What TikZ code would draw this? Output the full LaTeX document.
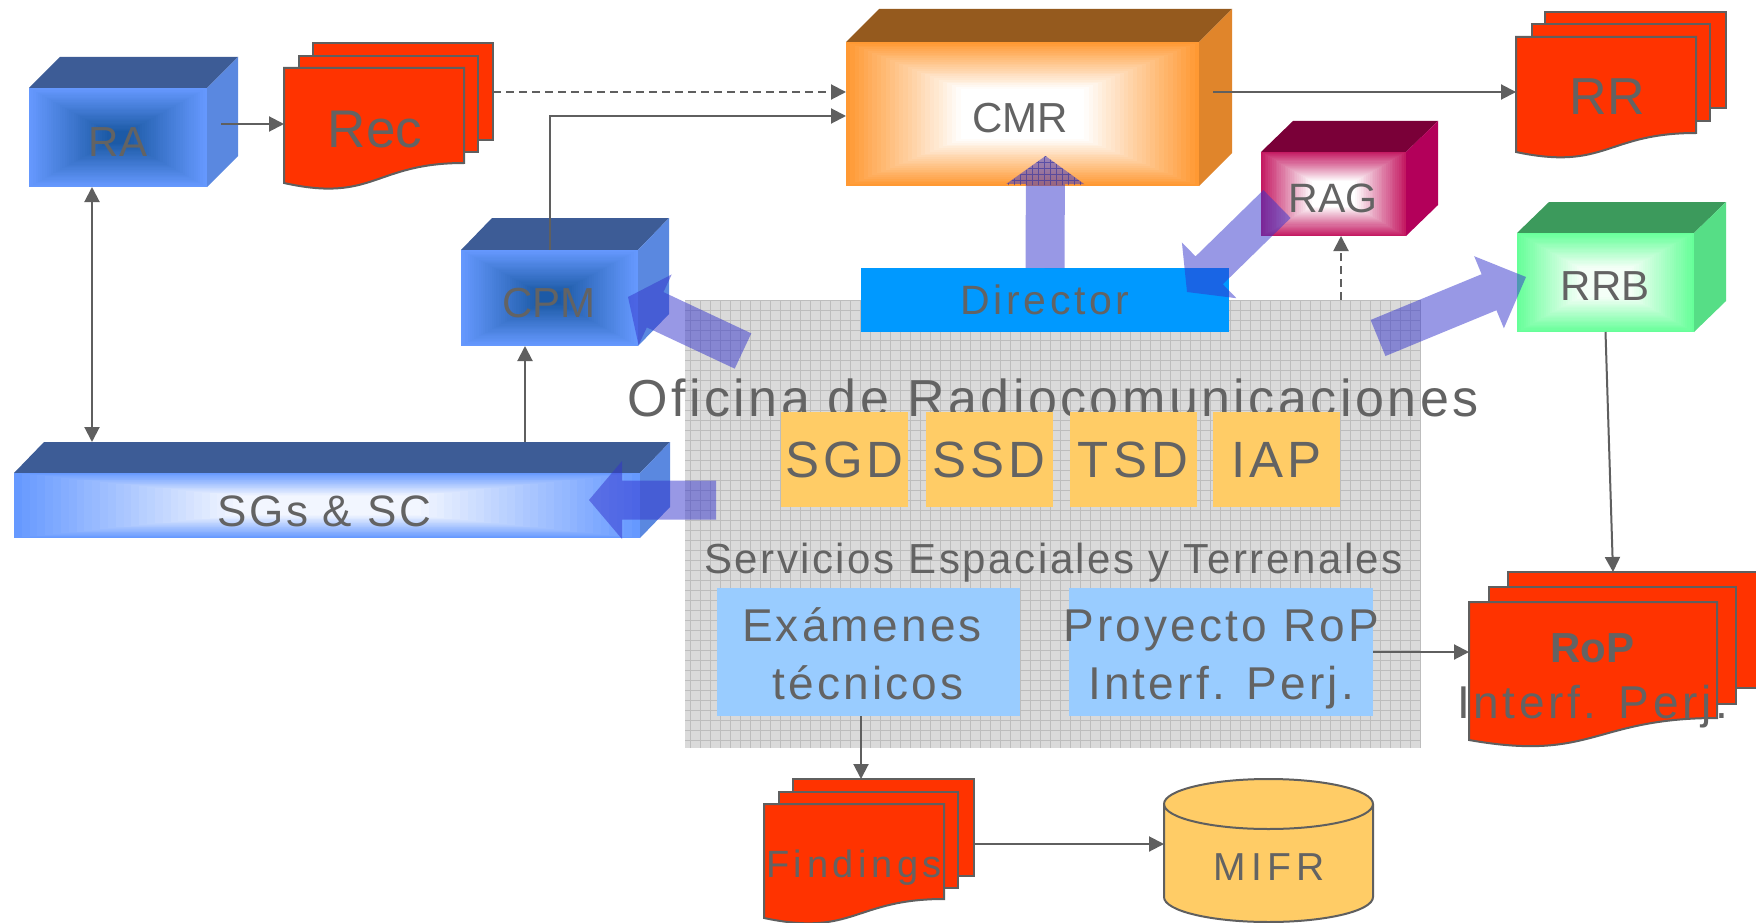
\documentclass[tikz,border=0pt]{standalone}
\usepackage{fontspec}
\setmainfont{Liberation Sans}
\usetikzlibrary{arrows.meta,calc}
\definecolor{txtg}{HTML}{636363}
\definecolor{lineg}{HTML}{5F5F5F}
\definecolor{docred}{HTML}{FF3300}
\definecolor{orgbox}{HTML}{FFCC66}
\definecolor{ltblue}{HTML}{99CCFF}
\definecolor{dirblue}{HTML}{0099FF}
\definecolor{gridbg}{HTML}{DADADA}
\definecolor{gridln}{HTML}{BDBDBD}
\definecolor{fatblue}{HTML}{3333CC}
\definecolor{hatchc}{HTML}{3030A0}
\definecolor{bOut}{HTML}{6699FF}
\definecolor{bIn}{HTML}{1C5AA6}
\definecolor{bWhite}{HTML}{F2F6FF}
\definecolor{bTop}{HTML}{3D5C96}
\definecolor{bSide}{HTML}{5A88E0}
\definecolor{oOut}{HTML}{FF9933}
\definecolor{oTop}{HTML}{955A1E}
\definecolor{oSide}{HTML}{E0852B}
\definecolor{mOut}{HTML}{C41A62}
\definecolor{mTop}{HTML}{7A0038}
\definecolor{mSide}{HTML}{B3005A}
\definecolor{gOut}{HTML}{66FF99}
\definecolor{gIn}{HTML}{F4FFF7}
\definecolor{gTop}{HTML}{3C9A5C}
\definecolor{gSide}{HTML}{56DE86}

\newcommand\myfs[1]{\fontsize{#1pt}{#1pt}\selectfont}

% nested-rectangle gradient: x1 y1 x2 y2 outer inner d0
\newcommand\gradrect[7]{%
  \pgfmathsetmacro\gcx{(#1+#3)/2}%
  \pgfmathsetmacro\gcy{(#2+#4)/2}%
  \pgfmathsetmacro\ghx{(#3-#1)/2}%
  \pgfmathsetmacro\ghy{(#4-#2)/2}%
  \foreach \k in {0,...,39}{%
    \pgfmathsetmacro\gd{1-\k/40}%
    \pgfmathtruncatemacro\gp{max(0,min(100,(\gd-#7)/(1-#7)*100))}%
    \fill[#5!\gp!#6] ({\gcx-\gd*\ghx},{\gcy-\gd*\ghy}) rectangle ({\gcx+\gd*\ghx},{\gcy+\gd*\ghy});
  }}
% top and side faces: x1 y1 x2 y2 dx dy topcolor sidecolor
\newcommand\cubefaces[8]{%
  \fill[#7] (#1,#2) -- (#1+#5,#2-#6) -- (#3+#5,#2-#6) -- (#3,#2) -- cycle;
  \fill[#8] (#3,#2) -- (#3+#5,#2-#6) -- (#3+#5,#4-#6) -- (#3,#4) -- cycle;}
% document sheets
\newcommand\docback[4]{\filldraw[docst] (#1,#2) rectangle (#3,#4);}
\newcommand\docfront[5]{%
  \filldraw[docst] (#1,#2) -- (#3,#2) -- (#3,#4) .. controls ({(#1+#3)/2},#4) and ({(#1+#3)/2},{#4+2*(#5-#4)}) .. (#1,#5) -- cycle;}
% fat translucent arrow: tail, tip, head length
\newcommand\fatarrow[3]{%
  \fill[fatarr] let \p1=(#1), \p2=(#2), \n1={atan2(\y2-\y1,\x2-\x1)} in
    ($(\p1)+({\n1+90}:19.5pt)$) --
    ($(\p2)+({\n1+180}:#3)+({\n1+90}:19.5pt)$) --
    ($(\p2)+({\n1+180}:#3)+({\n1+90}:39pt)$) --
    (\p2) --
    ($(\p2)+({\n1+180}:#3)+({\n1-90}:39pt)$) --
    ($(\p2)+({\n1+180}:#3)+({\n1-90}:19.5pt)$) --
    ($(\p1)+({\n1-90}:19.5pt)$) -- cycle;}

\begin{document}
\begin{tikzpicture}[x=1pt,y=-1pt,
  conn/.style={draw=lineg, line width=2pt, -{Triangle[length=15pt,width=15pt]}},
  dconn/.style={conn, dash pattern=on 8pt off 5pt},
  fatarr/.style={fill=fatblue, fill opacity=0.5},
  docst/.style={fill=docred, draw=lineg, line width=2pt, line join=miter},
  area/.style={inner sep=0pt, outer sep=0pt},
  lbl/.style={anchor=base, text=txtg, inner sep=0pt},
  obox/.style={area, fill=orgbox, minimum width=127pt, minimum height=95pt, text=txtg,
    font={\myfs{51}\addfontfeature{LetterSpace=8}}},
  lbox/.style={area, fill=ltblue, minimum width=303pt, minimum height=128pt},
  offtxt/.style={lbl, font={\myfs{46}\addfontfeature{LetterSpace=7}}}]

\useasboundingbox (0,0) rectangle (1756,923);
\clip (0,0) rectangle (1756,923);
\fill[white] (0,0) rectangle (1756,923);

% ---------- office area ----------
\node[area, minimum width=736pt, minimum height=448pt, fill=gridbg] (Office) at (1053,524) {};
\draw[gridln, line width=0.7pt, step=10pt] (Office.south west) grid (Office.north east);
\node[lbl, font={\myfs{52}\addfontfeature{LetterSpace=6.7}}] (Title) at (1053,416) {Oficina de Radiocomunicaciones};
\node[area, fill=dirblue, minimum width=368pt, minimum height=64pt, text=txtg,
  font={\myfs{41}\addfontfeature{LetterSpace=9}}] (Director) at (1045,300) {Director};
\node[obox] (SGD) at (844.5,459.5) {SGD};
\node[obox] (SSD) at (989,459.5) {SSD};
\node[obox] (TSD) at (1133,459.5) {TSD};
\node[obox] (IAP) at (1276.5,459.5) {IAP};
\node[lbl, font={\myfs{42}\addfontfeature{LetterSpace=6}}] (Serv) at (1053.5,573) {Servicios Espaciales y Terrenales};
\node[lbox] (Exam) at (868.5,652) {};
\node[offtxt] (ExamA) at (862,641) {Exámenes};
\node[offtxt] (ExamB) at (868,699) {técnicos};
\node[lbox, minimum width=304pt] (Proy) at (1221,652) {};
\node[offtxt] (ProyA) at (1221.5,641) {Proyecto RoP};
\node[offtxt] (ProyB) at (1221,699) {Interf. Perj.};

% ---------- 3D boxes ----------
\cubefaces{29}{88}{207}{187}{31}{31}{bTop}{bSide}
\gradrect{29}{88}{207}{187}{bOut}{bIn}{0.12}
\node[area, minimum width=178pt, minimum height=99pt] (RA) at (118,137.5) {};
\node[lbl, font=\myfs{42}] (RAt) at (118,157) {RA};

\cubefaces{461}{250}{638}{346}{31}{32}{bTop}{bSide}
\gradrect{461}{250}{638}{346}{bOut}{bIn}{0.12}
\node[area, minimum width=177pt, minimum height=96pt] (CPM) at (549.5,298) {};
\node[lbl, font=\myfs{42}] (CPMt) at (549,317) {CPM};

\cubefaces{14}{473}{640}{538}{30}{31}{bTop}{bSide}
\gradrect{14}{473}{640}{538}{bOut}{bWhite}{0.3}
\node[area, minimum width=626pt, minimum height=65pt] (SGs) at (327,505.5) {};
\node[lbl, font={\myfs{44}\addfontfeature{LetterSpace=6}}] (SGst) at (324,526) {SGs \& SC};

\cubefaces{846}{42}{1199}{186}{33}{33}{oTop}{oSide}
\gradrect{846}{42}{1199}{186}{oOut}{white}{0.35}
\node[area, minimum width=353pt, minimum height=144pt] (CMR) at (1022.5,114) {};
\node[lbl, font=\myfs{42}] (CMRt) at (1020,133) {CMR};

\cubefaces{1261}{152}{1406}{236}{32}{31}{mTop}{mSide}
\gradrect{1261}{152}{1406}{236}{mOut}{white}{0.3}
\node[area, minimum width=145pt, minimum height=84pt] (RAG) at (1333.5,194) {};
\node[lbl, font=\myfs{41}] (RAGt) at (1333,212) {RAG};

\cubefaces{1517}{233}{1694}{332}{32}{31}{gTop}{gSide}
\gradrect{1517}{233}{1694}{332}{gOut}{gIn}{0.3}
\node[area, minimum width=177pt, minimum height=99pt] (RRB) at (1605.5,282.5) {};
\node[lbl, font=\myfs{42}] (RRBt) at (1605,300) {RRB};

% ---------- documents ----------
\docback{313}{43}{493}{140}
\docback{299}{56}{478}{152}
\docfront{284}{68}{464}{163}{183}
\node[area, minimum width=209pt, minimum height=145pt] (Rec) at (388.5,115.5) {};
\node[lbl, font=\myfs{53}] (Rect) at (375,148) {Rec};

\docback{1545}{12}{1726}{108}
\docback{1532}{24}{1710}{121}
\docfront{1516}{37}{1696}{133}{152}
\node[area, minimum width=210pt, minimum height=143pt] (RR) at (1621,83.5) {};
\node[lbl, font=\myfs{52}] (RRt) at (1607,115) {RR};

\docback{1508}{572}{1790}{688}
\docback{1489}{587}{1736}{704}
\docfront{1469}{602}{1717}{718}{740}
\node[area, minimum width=306pt, minimum height=175pt] (RoP) at (1622,659.5) {};
\node[lbl, font={\myfs{42}\bfseries}] (RoPt) at (1592,662) {RoP};
\node[lbl, font={\myfs{46}\addfontfeature{LetterSpace=8}}] (RoPu) at (1592.5,718) {Interf. Perj.};

\docback{793}{779}{974}{876}
\docback{779}{792}{958}{888}
\docfront{764}{804}{944}{899}{918}
\node[area, minimum width=210pt, minimum height=144pt] (Findings) at (869,851) {};
\node[lbl, font={\myfs{38}\addfontfeature{LetterSpace=12}}] (Findt) at (854,877) {Findings};

% cylinder
\filldraw[fill=orgbox, draw=lineg, line width=2pt] (1164,804) -- (1164,897)
  arc[start angle=180, end angle=360, x radius=104.5pt, y radius=25pt] -- (1373,804)
  arc[start angle=0, end angle=180, x radius=104.5pt, y radius=25pt] -- cycle;
\draw[lineg, line width=2pt] (1164,804) arc[start angle=180, end angle=360, x radius=104.5pt, y radius=25pt];
\node[area, minimum width=209pt, minimum height=143pt] (MIFR) at (1268.5,850.5) {};
\node[lbl, font={\myfs{39}\addfontfeature{LetterSpace=13}}] (MIFRt) at (1269,880) {MIFR};

% ---------- connectors ----------
\coordinate (raout) at ([xshift=14pt,yshift=13.5pt]RA.east);
\draw[conn] (raout) -- (raout -| Rec.west);
\coordinate (cmrin1) at ([yshift=22pt]CMR.west);
\draw[dconn] (cmrin1 -| Rec.east) -- (cmrin1);
\coordinate (cmrin2) at ([yshift=-2pt]CMR.west);
\draw[conn] (CPM.north) |- (cmrin2);
\coordinate (cmrout) at ([xshift=14pt,yshift=22pt]CMR.east);
\draw[conn] (cmrout) -- (cmrout -| RR.west);
\coordinate (rab) at ([xshift=-26pt]RA.south);
\coordinate (sgtop) at ([xshift=198pt,yshift=31pt]SGs.north);
\draw[conn, {Triangle[length=15pt,width=15pt]}-{Triangle[length=15pt,width=15pt]}] (rab) -- (rab |- sgtop);
\draw[conn] (sgtop) -- (sgtop |- CPM.south);
\coordinate (ragin) at ([xshift=7.5pt]RAG.south);
\draw[dconn] (ragin |- Office.north) -- (ragin);
\draw[conn] (RRB.south) -- ([xshift=-9pt]RoP.north);
\draw[conn] (Proy.east) -- (Proy.east -| RoP.west);
\coordinate (exs) at ([xshift=-7.5pt]Exam.south);
\draw[conn] (exs) -- (exs |- Findings.north);
\coordinate (fout) at ([yshift=7pt]Findings.east);
\draw[conn] (fout) -- (fout -| MIFR.west);

% ---------- fat arrows ----------
\coordinate (faCPMs) at (743,351);
\coordinate (faCPMe) at (628,297);
\coordinate (faSGs) at (716,500);
\coordinate (faSGe) at (589,500);
\coordinate (faCMRe) at (1045.5,156);
\coordinate (faRAGs) at (1277,204);
\coordinate (faRAGe) at (1187,292);
\coordinate (faRRBs) at (1378,338);
\coordinate (faRRBe) at (1526,277);
\fatarrow{faCPMs}{faCPMe}{30pt}
\fatarrow{faSGs}{faSGe}{33pt}
\fatarrow{Director.north}{faCMRe}{28pt}
\fatarrow{faRAGs}{faRAGe}{31pt}
\fatarrow{faRRBs}{faRRBe}{40pt}
% hatch on the head that lies over CMR
\begin{scope}
  \clip (1006,185) -- (faCMRe) -- (1085,185) -- cycle;
  \draw[hatchc, line width=0.6pt, opacity=0.6, step=6pt] (1000,150) grid (1090,190);
\end{scope}
\end{tikzpicture}
\end{document}
